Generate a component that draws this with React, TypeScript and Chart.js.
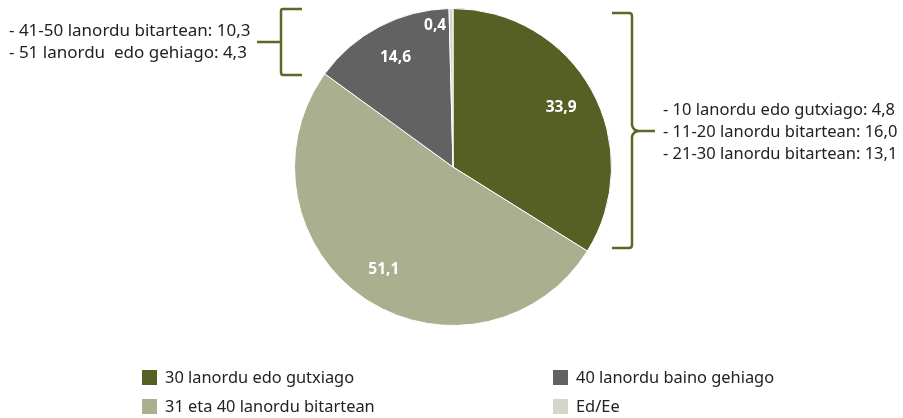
import React, { useEffect, useRef } from "react";
import { Chart, registerables } from "chart.js";

Chart.register(...registerables);

const categories = [
  "30 lanordu edo gutxiago",
  "31 eta 40 lanordu bitartean",
  "40 lanordu baino gehiago",
  "Ed/Ee",
];
const values = [33.9, 51.1, 14.6, 0.4];
const colors = ["#566024", "#aab08f", "#626262", "#d4d7c7"];
const rightNotes = [
  "- 10 lanordu edo gutxiago: 4,8",
  "- 11-20 lanordu bitartean: 16,0",
  "- 21-30 lanordu bitartean: 13,1",
];
const leftNotes = [
  "- 41-50 lanordu bitartean: 10,3",
  "- 51 lanordu  edo gehiago: 4,3",
];

const FONT = '"Noto Sans", sans-serif';
const BRACKET = "#5b6826";

const fmt = (v: number) => v.toFixed(1).replace(".", ",");

const overlay = {
  id: "overlay",
  afterDatasetsDraw(chart: any) {
    const ctx = chart.ctx as CanvasRenderingContext2D;
    const meta = chart.getDatasetMeta(0);
    ctx.save();
    // data labels
    ctx.font = `bold 15.5px ${FONT}`;
    ctx.fillStyle = "#ffffff";
    ctx.textBaseline = "middle";
    meta.data.forEach((arc: any, i: number) => {
      const p = arc.getProps(["x", "y", "startAngle", "endAngle", "outerRadius"], true);
      const mid = (p.startAngle + p.endAngle) / 2;
      if (i === 3) {
        const r = p.outerRadius * 0.89;
        ctx.textAlign = "right";
        ctx.fillText(fmt(values[i]), p.x + Math.cos(mid) * r - 5, p.y + Math.sin(mid) * r);
      } else {
        const r = p.outerRadius * 0.78;
        ctx.textAlign = "center";
        ctx.fillText(fmt(values[i]), p.x + Math.cos(mid) * r, p.y + Math.sin(mid) * r);
      }
    });

    // brackets
    ctx.strokeStyle = BRACKET;
    ctx.lineWidth = 2.5;
    ctx.lineCap = "butt";
    ctx.lineJoin = "round";
    // left bracket
    ctx.beginPath();
    ctx.moveTo(302, 9);
    ctx.lineTo(283, 9);
    ctx.quadraticCurveTo(281, 9, 281, 11);
    ctx.lineTo(281, 72);
    ctx.quadraticCurveTo(281, 75, 283, 75);
    ctx.lineTo(302, 75);
    ctx.stroke();
    ctx.beginPath();
    ctx.moveTo(257, 42);
    ctx.lineTo(281, 42);
    ctx.stroke();
    // right bracket
    ctx.beginPath();
    ctx.moveTo(612, 13);
    ctx.lineTo(629, 13);
    ctx.quadraticCurveTo(632, 13, 632, 16);
    ctx.lineTo(632, 125);
    ctx.quadraticCurveTo(633, 131, 640, 131);
    ctx.lineTo(655, 131);
    ctx.moveTo(640, 131);
    ctx.quadraticCurveTo(633, 131, 632, 137);
    ctx.lineTo(632, 245);
    ctx.quadraticCurveTo(632, 248, 629, 248);
    ctx.lineTo(612, 248);
    ctx.stroke();

    // notes
    ctx.fillStyle = "#222222";
    ctx.textAlign = "left";
    ctx.textBaseline = "middle";
    ctx.font = `16.5px ${FONT}`;
    rightNotes.forEach((t, i) => ctx.fillText(t, 663, 110 + i * 22));
    ctx.font = `17px ${FONT}`;
    leftNotes.forEach((t, i) => ctx.fillText(t, 9, 31 + i * 22));

    // legend
    const cols = [142, 553];
    const rows = [378, 407];
    ctx.font = `16.4px ${FONT}`;
    categories.forEach((c, i) => {
      const col = Math.floor(i / 2);
      const row = i % 2;
      const x = cols[col];
      const y = rows[row];
      ctx.fillStyle = colors[i];
      ctx.fillRect(x, y - 8, 15, 15);
      ctx.fillStyle = "#222222";
      ctx.fillText(c, x + 23, y);
    });
    ctx.restore();
  },
};

export default function App() {
  const ref = useRef<HTMLCanvasElement | null>(null);
  useEffect(() => {
    document.body.style.margin = "0";
    const chart = new Chart(ref.current as HTMLCanvasElement, {
      type: "pie",
      data: {
        labels: categories,
        datasets: [
          {
            data: values,
            backgroundColor: colors,
            borderColor: "#ffffff",
            borderWidth: 1,
          },
        ],
      },
      options: {
        responsive: false,
        animation: false,
        layout: { padding: { top: 8, bottom: 92, left: 294, right: 291 } },
        plugins: {
          legend: { display: false },
          tooltip: { enabled: false },
        },
      },
      plugins: [overlay],
    });
    return () => chart.destroy();
  }, []);
  return <canvas ref={ref} width={903} height={418} style={{ display: "block" }} />;
}
